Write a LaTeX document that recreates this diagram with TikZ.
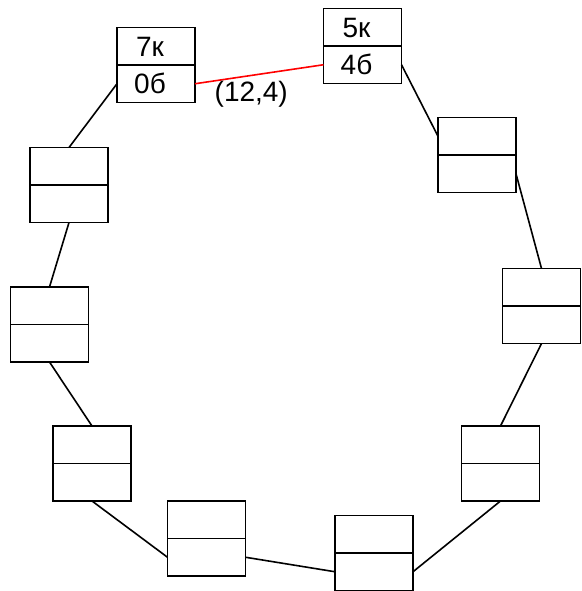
\documentclass[tikz,border=0pt]{standalone}
\usepackage{fontspec}
\setmainfont{Liberation Sans}
\tikzset{
  half/.style={draw, line width=1.8pt, minimum width=78pt, minimum height=37.5pt, inner sep=0pt, outer sep=0pt},
  lbl/.style={font=\fontsize{28}{32}\selectfont, inner sep=0pt, text=black},
  conn/.style={line width=1.6pt, black},
  redconn/.style={line width=1.6pt, red}
}
\newcommand\twobox[3]{%
  \node[half] (#1t) at (#2,#3-18.75) {};
  \node[half] (#1b) at (#2,#3+18.75) {};
}
\begin{document}
\begin{tikzpicture}[x=1pt,y=-1pt]
\useasboundingbox (0,0) rectangle (581,591);
\twobox{A}{156}{65}
\twobox{B}{362.5}{46}
\twobox{C}{69}{185}
\twobox{D}{49.5}{324.5}
\twobox{E}{92}{463.5}
\twobox{F}{206.5}{538.5}
\twobox{G}{374}{553}
\twobox{H}{500.5}{463.5}
\twobox{I}{541.5}{306}
\twobox{J}{477}{155}
\node[lbl] (At-l) at ([xshift=-6pt,yshift=-1pt]At.center) {7к};
\node[lbl] (Ab-l) at ([xshift=-6pt]Ab.center) {0б};
\node[lbl] (Bt-l) at ([xshift=-6pt,yshift=-1pt]Bt.center) {5к};
\node[lbl] (Bb-l) at ([xshift=-6pt]Bb.center) {4б};
\draw[conn] (Ab.west) -- (Ct.north);
\draw[conn] (Cb.south) -- (Dt.north);
\draw[conn] (Db.south) -- (Et.north);
\draw[conn] (Eb.south) -- (Fb.west);
\draw[conn] (Fb.east) -- (Gb.west);
\draw[conn] (Gb.east) -- (Hb.south);
\draw[conn] (Ht.north) -- (Ib.south);
\draw[conn] (It.north) -- (Jb.east);
\draw[conn] (Jt.west) -- (Bb.east);
\draw[redconn] (Bb.west) -- node[lbl, pos=0.5, xshift=-8pt, yshift=-20pt] (w) {(12,4)} (Ab.east);
\end{tikzpicture}
\end{document}
